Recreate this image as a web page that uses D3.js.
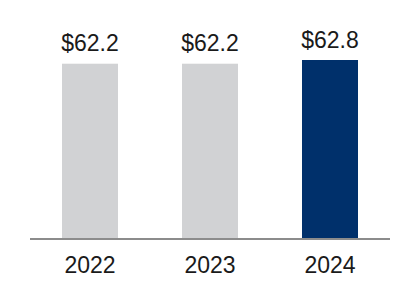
<!DOCTYPE html>
<html>
<head>
<meta charset="utf-8">
<script src="https://cdn.jsdelivr.net/npm/d3@7"></script>
<style>
  html, body { margin: 0; padding: 0; background: #fff; }
  svg { display: block; }
</style>
</head>
<body>
<svg id="chart" width="420" height="288"></svg>
<script>
// chart data
const years = ["2022", "2023", "2024"];
const values = [62.2, 62.2, 62.8];
const valueLabels = ["$62.2", "$62.2", "$62.8"];
const highlightYear = "2024";

const svg = d3.select("#chart");

// x: one band per year, 120px step, 56px bars
const x = d3.scaleBand()
    .domain(years)
    .range([30, 390])
    .paddingInner(0.5333)
    .paddingOuter(0.2667);

// y: truncated axis as in the original
const y = d3.scaleLinear()
    .domain([34, 62.8])
    .range([238, 60]);

const rows = years.map((yr, i) => ({ year: yr, value: values[i], label: valueLabels[i] }));

svg.selectAll("rect.bar")
    .data(rows)
    .join("rect")
    .attr("class", "bar")
    .attr("x", d => x(d.year))
    .attr("width", x.bandwidth())
    .attr("y", d => y(d.value))
    .attr("height", d => y.range()[0] - y(d.value))
    .attr("fill", d => d.year === highlightYear ? "#00306b" : "#d1d2d4");

// value labels above bars
svg.selectAll("text.val")
    .data(rows)
    .join("text")
    .attr("class", "val")
    .attr("x", d => x(d.year) + x.bandwidth() / 2)
    .attr("y", d => y(d.value) - 12.5)
    .attr("text-anchor", "middle")
    .attr("font-family", "Liberation Sans, Arial, sans-serif")
    .attr("font-size", 23)
    .attr("fill", "#1a1a1a")
    .text(d => d.label);

// baseline
svg.append("line")
    .attr("x1", x.range()[0])
    .attr("x2", x.range()[1])
    .attr("y1", 239)
    .attr("y2", 239)
    .attr("stroke", "#8c8c8c")
    .attr("stroke-width", 2);

// year labels
const xAxis = svg.append("g")
    .attr("transform", "translate(0,273)");

xAxis.selectAll("text")
    .data(years)
    .join("text")
    .attr("x", d => x(d) + x.bandwidth() / 2)
    .attr("text-anchor", "middle")
    .attr("font-family", "Liberation Sans, Arial, sans-serif")
    .attr("font-size", 23)
    .attr("fill", "#1a1a1a")
    .text(d => d);
</script>
</body>
</html>
